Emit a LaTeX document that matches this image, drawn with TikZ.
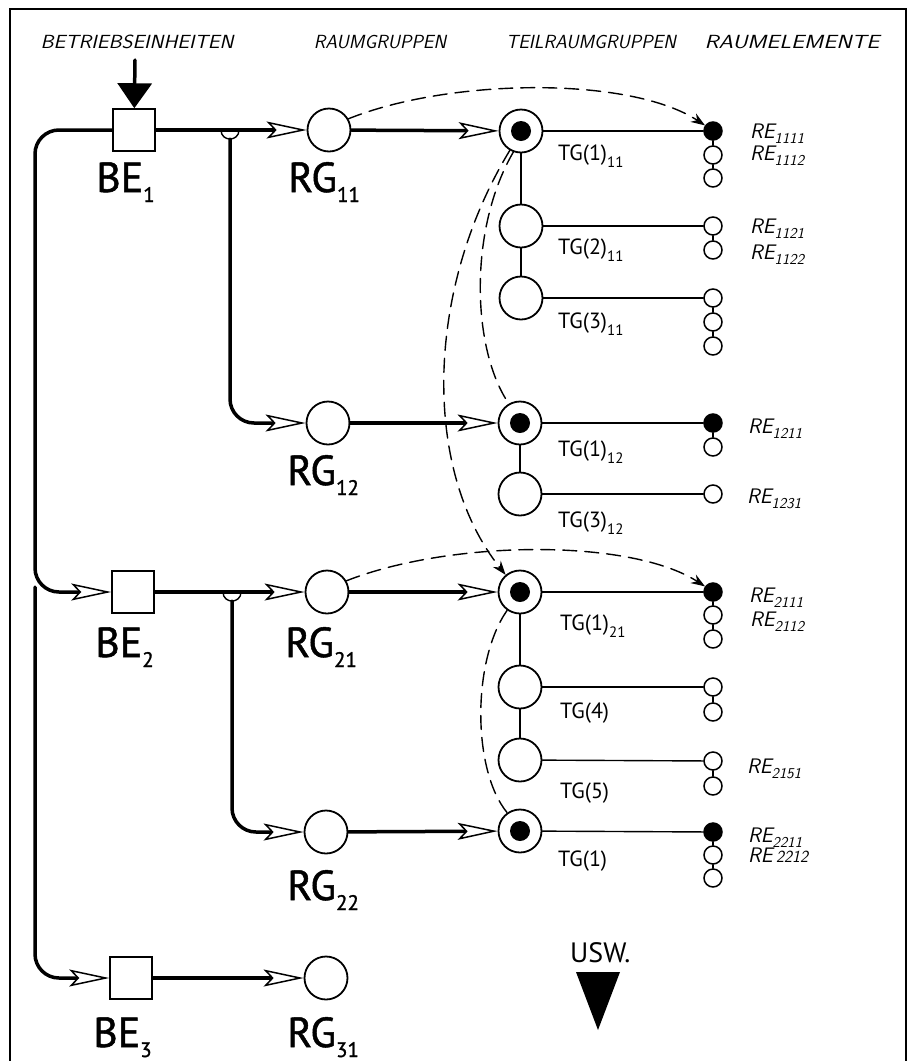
\documentclass[tikz,border=0pt]{standalone}
\usepackage{fontspec}
\setmainfont{PT Sans}
\newfontfamily\dinfont{PT Sans}[FakeBold=1.2]
\usetikzlibrary{arrows.meta}

\newcommand{\hand}{\sffamily\itshape}
\newcommand{\bsub}[1]{\raisebox{-10pt}{\fontsize{21}{21}\selectfont #1}}
\newcommand{\tsub}[1]{\raisebox{-7pt}{\fontsize{15}{15}\selectfont #1}}
\newcommand{\rsub}[1]{\raisebox{-5pt}{\fontsize{15}{15}\selectfont #1}}

\begin{document}
\begin{tikzpicture}[x=1pt, y=-1pt, line cap=round,
  be/.style={draw, line width=1.5pt, minimum size=42pt, inner sep=0pt},
  rg/.style={circle, draw, line width=1.8pt, minimum size=43pt, inner sep=0pt},
  tgvoll/.style={rg, path picture={\fill (path picture bounding box.center) circle (10pt);}},
  re/.style={circle, draw, line width=1.5pt, minimum size=18pt, inner sep=0pt},
  revoll/.style={re, fill},
  flow/.style={line width=3.5pt, -{Stealth[length=40pt, width=17pt, inset=8pt, line width=1.5pt, fill=white]}},
  link/.style={line width=1.4pt},
  bezug/.style={line width=1.4pt, dash pattern=on 14pt off 8pt},
  bezugpfeil/.style={bezug, -{Stealth[length=14pt, width=10pt]}},
  gross/.style={anchor=base west, inner sep=0pt, font=\dinfont\fontsize{42}{48}\selectfont},
  tgtext/.style={anchor=base west, inner sep=0pt, font=\fontsize{22}{26}\selectfont},
  retext/.style={anchor=base west, inner sep=0pt, font=\hand\fontsize{21}{24}\selectfont},
  kopf/.style={anchor=base, inner sep=0pt, font=\hand\fontsize{19}{22}\selectfont}]
\useasboundingbox (0,0) rectangle (916,1061);

% frame
\draw[line width=1.5pt] (10,1061) -- (10,9) -- (906,9) -- (906,1061);

% column heads
\node[kopf] (k1) at (137,48) {\scalebox{1.1}[1]{BETRIEBSEINHEITEN}};
\node[kopf] (k2) at (380,48) {RAUMGRUPPEN};
\node[kopf] (k3) at (591,48) {TEILRAUMGRUPPEN};
\node[kopf] (k4) at (792,48) {\scalebox{1.22}[1]{RAUMELEMENTE}};

% betriebseinheiten and raumgruppen
\node[be] (be1) at (134,130) {};
\node[be] (be2) at (133,592) {};
\node[be] (be3) at (131,978) {};
\node[rg] (rg11) at (329,130) {};
\node[rg] (rg12) at (328,423) {};
\node[rg] (rg21) at (327,592) {};
\node[rg] (rg22) at (326,832) {};
\node[rg] (rg31) at (326,978) {};

\node[gross] (lbe1) at (96,192) {BE\bsub{1}};
\node[gross] (lrg11) at (288,192) {RG\bsub{11}};
\node[gross] (lrg12) at (287,485) {RG\bsub{12}};
\node[gross] (lbe2) at (95,657) {BE\bsub{2}};
\node[gross] (lrg21) at (285,657) {RG\bsub{21}};
\node[gross] (lrg22) at (287,900) {RG\bsub{22}};
\node[gross] (lbe3) at (93,1047) {BE\bsub{3}};
\node[gross] (lrg31) at (287,1047) {RG\bsub{31}};

% teilraumgruppen
\node[tgvoll] (tg111) at (521,131) {};
\node[rg] (tg211) at (521,226) {};
\node[rg] (tg311) at (521,298) {};
\node[tgvoll] (tg112) at (520,423) {};
\node[rg] (tg312) at (520,494) {};
\node[tgvoll] (tg121) at (520,592) {};
\node[rg] (tg4) at (520,687) {};
\node[rg] (tg5) at (520,760) {};
\node[tgvoll] (tg122) at (520,831) {};

\node[tgtext] (ltg111) at (558,160) {TG(1)\tsub{11}};
\node[tgtext] (ltg211) at (558,254) {TG(2)\tsub{11}};
\node[tgtext] (ltg311) at (558,328) {TG(3)\tsub{11}};
\node[tgtext] (ltg112) at (558,456) {TG(1)\tsub{12}};
\node[tgtext] (ltg312) at (558,527) {TG(3)\tsub{12}};
\node[tgtext] (ltg121) at (560,630) {TG(1)\tsub{21}};
\node[tgtext] (ltg4) at (560,718) {TG(4)};
\node[tgtext] (ltg5) at (560,798) {TG(5)};
\node[tgtext] (ltg122) at (558,866) {TG(1)};

% raumelemente
\node[revoll] (re1111) at (713,131) {};
\node[re] (re1112) at (713,155) {};
\node[re] (re1113) at (713,178) {};
\node[re] (re1121) at (713,226) {};
\node[re] (re1122) at (713,250) {};
\node[re] (re1131) at (713,298) {};
\node[re] (re1132) at (713,322) {};
\node[re] (re1133) at (713,346) {};
\node[revoll] (re1211) at (713,423) {};
\node[re] (re1212) at (713,447) {};
\node[re] (re1231) at (713,494) {};
\node[revoll] (re2111) at (713,592) {};
\node[re] (re2112) at (713,615) {};
\node[re] (re2113) at (713,639) {};
\node[re] (re2141) at (713,687) {};
\node[re] (re2142) at (713,712) {};
\node[re] (re2151) at (713,761) {};
\node[re] (re2152) at (713,786) {};
\node[revoll] (re2211) at (713,832) {};
\node[re] (re2212) at (713,855) {};
\node[re] (re2213) at (713,878) {};

\node[retext] (lre1111) at (750,138) {RE\rsub{1111}};
\node[retext] (lre1112) at (750,160) {RE\rsub{1112}};
\node[retext] (lre1121) at (750,233) {RE\rsub{1121}};
\node[retext] (lre1122) at (750,259) {RE\rsub{1122}};
\node[retext] (lre1211) at (748,433) {RE\rsub{1211}};
\node[retext] (lre1231) at (747,503) {RE\rsub{1231}};
\node[retext] (lre2111) at (749,602) {RE\rsub{2111}};
\node[retext] (lre2112) at (750,626) {RE\rsub{2112}};
\node[retext] (lre2151) at (747,773) {RE\rsub{2151}};
\node[retext] (lre2211) at (748,842) {RE\rsub{2211}};
\node[retext] (lre2212) at (748,862) {RE\,{\fontsize{17}{17}\selectfont 2212}};

% input and usw.
\coordinate (ein) at (135,60);
\draw[line width=3.5pt, -{Triangle[length=25pt, width=34pt]}] (ein) -- (be1);
\node[tgtext, font=\fontsize{28}{30}\selectfont] (usw) at (570,962) {USW.};
\fill (576,972) -- (620,972) -- (598,1030) -- cycle;

% main flow
\draw[flow] (be1) -- (rg11);
\draw[flow] (rg11) -- (tg111);
\draw[flow] (rg12) -- (tg112);
\draw[flow] (be2) -- (rg21);
\draw[flow] (rg21) -- (tg121);
\draw[flow] (rg22) -- (tg122);
\draw[flow] (be3) -- (rg31);

\coordinate (ecke1) at (35,592);
\coordinate (abzw) at (35,587);
\draw[flow, rounded corners=24pt] (be1) -| (ecke1) -- (be2);
\draw[flow, rounded corners=24pt] (abzw) |- (be3);

% branches
\coordinate (ast1) at (230,139);
\coordinate (ast2) at (232,601);
\draw[link] (221,130) .. controls (221,142) and (239,142) .. (239,130);
\draw[link] (223,592) .. controls (223,604) and (241,604) .. (241,592);
\draw[flow, rounded corners=24pt] (ast1) |- (rg12);
\draw[flow, rounded corners=24pt] (ast2) |- (rg22);

% tg links
\draw[link] (tg111) -- (tg211);
\draw[link] (tg211) -- (tg311);
\draw[link] (tg112) -- (tg312);
\draw[link] (tg121) -- (tg4);
\draw[link] (tg4) -- (tg5);

\draw[link] (tg111) -- (re1111);
\draw[link] (tg211) -- (re1121);
\draw[link] (tg311) -- (re1131);
\draw[link] (tg112) -- (re1211);
\draw[link] (tg312) -- (re1231);
\draw[link] (tg121) -- (re2111);
\draw[link] (tg4) -- (re2141);
\draw[link] (tg5) -- (re2151);
\draw[link] (tg122) -- (re2211);

\draw[link] (re1111) -- (re1112);
\draw[link] (re1112) -- (re1113);
\draw[link] (re1121) -- (re1122);
\draw[link] (re1131) -- (re1132);
\draw[link] (re1132) -- (re1133);
\draw[link] (re1211) -- (re1212);
\draw[link] (re2111) -- (re2112);
\draw[link] (re2112) -- (re2113);
\draw[link] (re2141) -- (re2142);
\draw[link] (re2151) -- (re2152);
\draw[link] (re2211) -- (re2212);
\draw[link] (re2212) -- (re2213);

% dashed relations
\draw[bezugpfeil] (rg11.30) .. controls (450,78) and (630,76) .. (re1111.145);
\draw[bezugpfeil] (rg21.30) .. controls (450,540) and (630,538) .. (re2111.145);
\draw[bezug] (tg111.250) .. controls (468,230) and (472,350) .. (tg112.120);
\draw[bezugpfeil] (tg111.240) .. controls (425,290) and (422,470) .. (tg121.130);
\draw[bezug] (tg121.235) .. controls (472,660) and (472,770) .. (tg122.125);
\end{tikzpicture}
\end{document}
